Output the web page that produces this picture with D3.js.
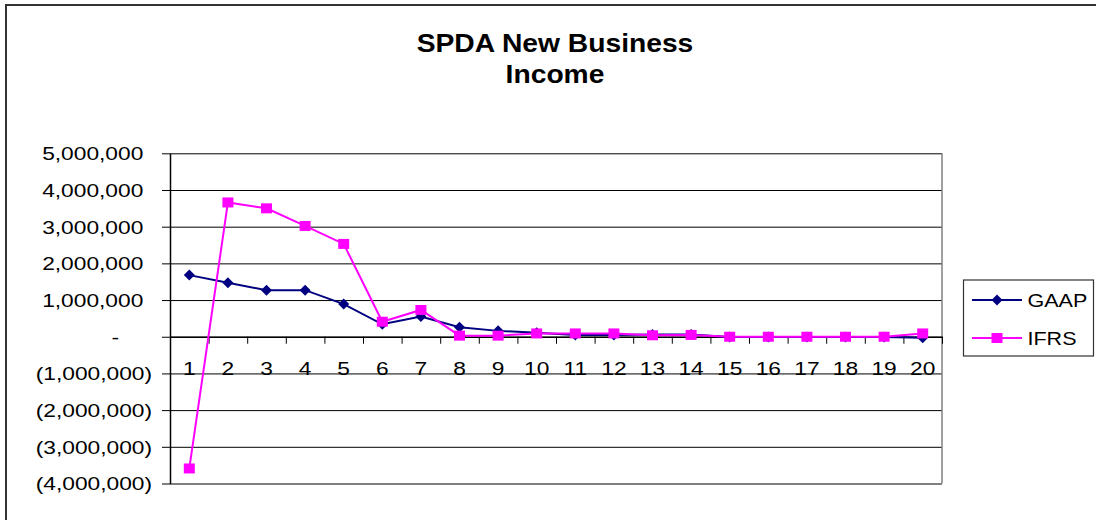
<!DOCTYPE html>
<html>
<head>
<meta charset="utf-8">
<script src="https://cdnjs.cloudflare.com/ajax/libs/d3/7.8.5/d3.min.js"></script>
<style>
  html, body { margin: 0; padding: 0; background: #fff; }
  svg { display: block; }
  text { font-family: "Liberation Sans", Arial, sans-serif; fill: #000; }
</style>
</head>
<body>
<svg id="chart" width="1096" height="520"></svg>
<script>
// Policy years on the horizontal axis
const years = d3.range(1, 21).map(String);

// Income by year, per accounting basis
const gaap = [1680000, 1470000, 1270000, 1270000, 890000, 340000, 550000, 260000, 160000, 110000,
              50000, 50000, 60000, 60000, -10000, -10000, -10000, -10000, -10000, -30000];
const ifrs = [-3590000, 3660000, 3500000, 3020000, 2530000, 410000, 730000, 30000, 30000, 90000,
              90000, 90000, 40000, 50000, 0, 0, 0, 0, 0, 90000];

// Value axis ticks
const yTicks = [-4000000, -3000000, -2000000, -1000000, 0, 1000000, 2000000, 3000000, 4000000, 5000000];

const seriesNames = ["GAAP", "IFRS"];
const seriesColors = ["#000080", "#ff00ff"];

const svg = d3.select("#chart");
const SX = 1.23; // horizontal stretch of the lettering

// Outer chart frame
svg.append("rect")
  .attr("x", 6).attr("y", 5).attr("width", 1200).attr("height", 600)
  .attr("fill", "none").attr("stroke", "#333").attr("stroke-width", 2);

// Title
const title = ["SPDA New Business", "Income"];
title.forEach((t, i) => {
  svg.append("text")
    .attr("transform", `translate(555,${51.5 + i * 31}) scale(1.13,1)`)
    .attr("text-anchor", "middle")
    .attr("font-size", 25).attr("font-weight", "bold")
    .text(t);
});

const plot = { left: 170, right: 942, top: 153.3, bottom: 483.5 };

const x = d3.scaleBand().domain(years).range([plot.left, plot.right]).paddingInner(0).paddingOuter(0);
const xEdge = d3.scaleLinear().domain([0, years.length]).range([plot.left, plot.right]);
const y = d3.scaleLinear().domain([-4000000, 5000000]).range([plot.bottom, plot.top]);
const cx = d => x(d) + x.bandwidth() / 2;

// Horizontal gridlines
svg.append("g")
  .attr("transform", `translate(${plot.left},0)`)
  .call(d3.axisLeft(y).tickValues(yTicks).tickSize(-(plot.right - plot.left)).tickFormat(""))
  .call(g => g.select(".domain").remove())
  .call(g => g.selectAll("line").attr("stroke", "#000").attr("stroke-width", 1));

// Right edge of the plot area
svg.append("line")
  .attr("x1", plot.right).attr("x2", plot.right)
  .attr("y1", plot.top).attr("y2", plot.bottom)
  .attr("stroke", "#808080").attr("stroke-width", 1.5);

// Value axis with accounting-style labels
const fmt = d3.format(",");
const yLabel = v => v === 0 ? "-" : (v < 0 ? `(${fmt(-v)})` : fmt(v));
const yLabelEnd = v => v === 0 ? -51 : (v < 0 ? -18 : -26.7);

svg.append("g")
  .attr("transform", `translate(${plot.left},0)`)
  .call(d3.axisLeft(y).tickValues(yTicks).tickSize(8).tickSizeOuter(0).tickFormat(yLabel))
  .call(g => g.select(".domain").attr("stroke", "#000").attr("stroke-width", 1.5))
  .call(g => g.selectAll(".tick line").attr("stroke", "#000"))
  .call(g => g.selectAll(".tick text")
    .attr("font-family", null)
    .attr("font-size", 18.5)
    .attr("x", d => yLabelEnd(d) / SX)
    .attr("dy", "0.35em")
    .attr("transform", `scale(${SX},1)`));

// Category axis along zero: tick marks between categories
svg.append("g")
  .attr("transform", `translate(0,${y(0)})`)
  .call(d3.axisBottom(xEdge).tickValues(d3.range(0, years.length + 1)).tickSize(7).tickSizeOuter(0).tickFormat(""))
  .call(g => g.select(".domain").attr("stroke", "#000").attr("stroke-width", 1.5))
  .call(g => g.selectAll(".tick line").attr("stroke", "#000"));

// Category labels
svg.append("g")
  .attr("transform", `translate(0,${y(0)})`)
  .call(d3.axisBottom(x).tickSize(0).tickFormat(d => d))
  .call(g => g.select(".domain").remove())
  .call(g => g.selectAll(".tick text")
    .attr("font-family", null)
    .attr("font-size", 18.5)
    .attr("x", 0)
    .attr("y", 37.8).attr("dy", 0)
    .attr("transform", `scale(${SX},1)`));

// Marker shapes
const diamond = "M0,-5.5L5.5,0L0,5.5L-5.5,0Z";
const square = "M-5.5,-5L5.5,-5L5.5,5L-5.5,5Z";
const shapes = [diamond, square];

const line = d3.line().x((d, i) => cx(years[i])).y(d => y(d));

[gaap, ifrs].forEach((vals, s) => {
  const g = svg.append("g");
  g.append("path")
    .datum(vals)
    .attr("d", line)
    .attr("fill", "none")
    .attr("stroke", seriesColors[s])
    .attr("stroke-width", 2);
  g.selectAll("path.mk")
    .data(vals)
    .join("path")
    .attr("class", "mk")
    .attr("d", shapes[s])
    .attr("transform", (d, i) => `translate(${cx(years[i])},${y(d)})`)
    .attr("fill", seriesColors[s]);
});

// Legend
const legend = svg.append("g");
legend.append("rect")
  .attr("x", 963.5).attr("y", 280).attr("width", 130).attr("height", 76)
  .attr("fill", "#fff").attr("stroke", "#333").attr("stroke-width", 1.2);

seriesNames.forEach((name, s) => {
  const ly = 300 + s * 38;
  legend.append("line")
    .attr("x1", 972).attr("x2", 1022).attr("y1", ly).attr("y2", ly)
    .attr("stroke", seriesColors[s]).attr("stroke-width", 2);
  legend.append("path")
    .attr("d", shapes[s])
    .attr("transform", `translate(997,${ly})`)
    .attr("fill", seriesColors[s]);
  legend.append("text")
    .attr("transform", `translate(1027.5,${ly + 6.5}) scale(${SX},1)`)
    .attr("font-size", 17.5)
    .text(name);
});
</script>
</body>
</html>
